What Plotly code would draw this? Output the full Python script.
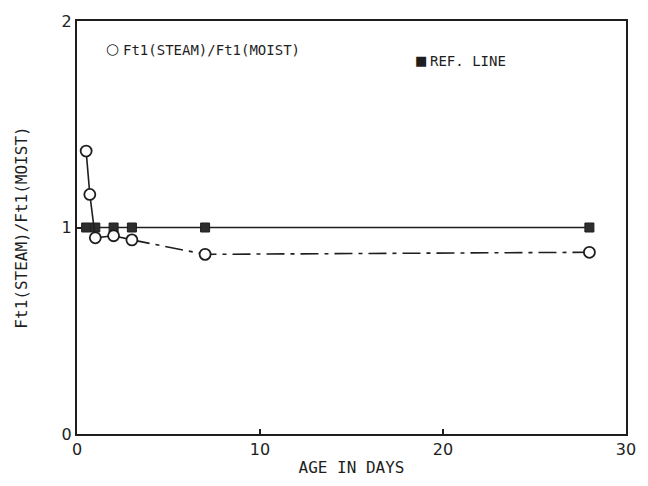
import plotly.graph_objects as go

# Data
age_ratio = [0.5, 0.7, 1, 2, 3, 7, 28]
ratio = [1.37, 1.16, 0.95, 0.96, 0.94, 0.87, 0.88]
age_ref = [0.5, 1, 2, 3, 7, 28]
ref = [1, 1, 1, 1, 1, 1]

x_ticks = [0, 10, 20, 30]
y_ticks = [0, 1, 2]

FONT = "DejaVu Sans"
MONO = "DejaVu Sans Mono"
INK = "#1e1e1e"

fig = go.Figure()

# Reference line
fig.add_trace(go.Scatter(
    x=age_ref, y=ref, mode="lines+markers",
    line=dict(color=INK, width=1.6),
    marker=dict(symbol="square", size=9, color="#2e2e2e",
                line=dict(color=INK, width=1)),
    showlegend=False, cliponaxis=False))

# Ratio series: solid part (first points)
fig.add_trace(go.Scatter(
    x=age_ratio[:5], y=ratio[:5], mode="lines",
    line=dict(color=INK, width=1.6),
    showlegend=False, cliponaxis=False))
# Ratio series: dash-dot part
fig.add_trace(go.Scatter(
    x=age_ratio[4:], y=ratio[4:], mode="lines",
    line=dict(color=INK, width=1.6, dash="18px,6px,4px,6px"),
    showlegend=False, cliponaxis=False))
# Ratio markers
fig.add_trace(go.Scatter(
    x=age_ratio, y=ratio, mode="markers",
    marker=dict(symbol="circle", size=11, color="white",
                line=dict(color=INK, width=1.8)),
    showlegend=False, cliponaxis=False))

fig.update_layout(
    width=648, height=486,
    margin=dict(l=77, r=17, t=15, b=51),
    paper_bgcolor="white", plot_bgcolor="white",
    font=dict(family=FONT, color=INK, size=15),
    xaxis=dict(range=[0, 30], tickvals=x_ticks, ticks="inside", ticklen=5,
               tickwidth=1.5, tickcolor=INK,
               showline=True, linecolor=INK, linewidth=2, mirror=True,
               showgrid=False, zeroline=False,
               tickfont=dict(size=16),
               title=dict(text="AGE IN DAYS", font=dict(size=16, family=MONO),
                          standoff=4)),
    yaxis=dict(range=[0, 2], tickvals=y_ticks, ticks="inside", ticklen=5,
               tickwidth=1.5, tickcolor=INK,
               showline=True, linecolor=INK, linewidth=2, mirror=True,
               showgrid=False, zeroline=False,
               tickfont=dict(size=16),
               title=dict(text="Ft1(STEAM)/Ft1(MOIST)",
                          font=dict(size=16, family=MONO), standoff=30)),
    annotations=[
        dict(xref="paper", yref="paper", x=0.065, y=0.932, xanchor="center",
             yanchor="middle", showarrow=False,
             text="○", font=dict(size=15, family=FONT)),
        dict(xref="paper", yref="paper", x=0.080, y=0.930, xanchor="left",
             yanchor="middle", showarrow=False,
             text="Ft1(STEAM)/Ft1(MOIST)", font=dict(size=14, family=MONO)),
        dict(xref="paper", yref="paper", x=0.626, y=0.905, xanchor="center",
             yanchor="middle", showarrow=False,
             text="■", font=dict(size=13, family=FONT)),
        dict(xref="paper", yref="paper", x=0.640, y=0.903, xanchor="left",
             yanchor="middle", showarrow=False,
             text="REF. LINE", font=dict(size=14, family=MONO)),
    ],
)

fig.write_html("out.html")
